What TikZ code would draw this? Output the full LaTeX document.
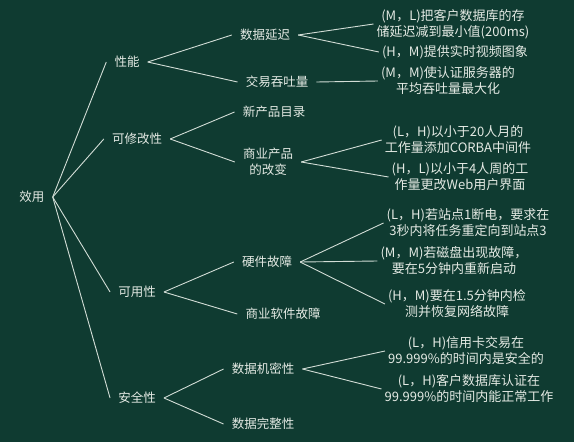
\documentclass[tikz,border=0pt]{standalone}
\usepackage{fontspec}
\setmainfont{Noto Sans CJK SC}
\definecolor{board}{HTML}{0F3B31}
\definecolor{chalk}{HTML}{E4EAE4}
\definecolor{chalkline}{HTML}{D2DDD6}
\begin{document}
\begin{tikzpicture}[x=1pt,y=-1pt,
  lbl/.style={text=chalk, font=\fontsize{12.5}{16}\selectfont, inner xsep=8pt, inner ysep=2pt, align=center},
  leaf/.style={lbl, font=\fontsize{13}{16}\selectfont, inner xsep=3pt},
  wire/.style={draw=chalkline, line width=0.9pt}]
% chalkboard
\fill[board] (0,0) rectangle (574,442);
\useasboundingbox (0,0) rectangle (574,442);

% root and quality attributes
\node[lbl] (root)  at (32,197)  {效用};
\node[lbl] (perf)  at (127,62)  {性能};
\node[lbl] (modi)  at (137,139) {可修改性};
\node[lbl] (avail) at (137,292) {可用性};
\node[lbl] (sec)   at (137,398) {安全性};

% refinements
\node[lbl] (lat)   at (265,35)  {数据延迟};
\node[lbl] (thr)   at (277,82)  {交易吞吐量};
\node[lbl] (cat)   at (274,112) {新产品目录};
\node[lbl] (chg)   at (268,162) {商业产品\\的改变};
\node[lbl] (hw)    at (267,262) {硬件故障};
\node[lbl] (sw)    at (283,314) {商业软件故障};
\node[lbl] (conf)  at (263,369) {数据机密性};
\node[lbl] (integ) at (263,424) {数据完整性};

% scenarios
\node[leaf] (s1)  at (453,24)  {(M，L)把客户数据库的存\\储延迟减到最小值(200ms)};
\node[leaf] (s2)  at (455,52)  {(H，M)提供实时视频图象};
\node[leaf] (s3)  at (448,81)  {(M，M)使认证服务器的\\平均吞吐量最大化};
\node[leaf] (s4)  at (458,140) {(L，H)以小于20人月的\\工作量添加CORBA中间件};
\node[leaf] (s5)  at (460,177) {(H，L)以小于4人周的工\\作量更改Web用户界面};
\node[leaf] (s6)  at (468,223) {(L，H)若站点1断电，要求在\\3秒内将任务重定向到站点3};
\node[leaf] (s7)  at (454,261) {(M，M)若磁盘出现故障，\\要在5分钟内重新启动};
\node[leaf] (s8)  at (457,304) {(H，M)要在1.5分钟内检\\测并恢复网络故障};
\node[leaf] (s9)  at (466,351) {(L，H)信用卡交易在\\99.999\%的时间内是安全的};
\node[leaf] (s10) at (469,389) {(L，H)客户数据库认证在\\99.999\%的时间内能正常工作};

% connectors
\foreach \a/\b in {root/perf, root/modi, root/avail, root/sec,
                   perf/lat, perf/thr, modi/cat, modi/chg,
                   avail/hw, avail/sw, sec/conf, sec/integ,
                   lat/s1, lat/s2, thr/s3, chg/s4, chg/s5,
                   hw/s6, hw/s7, hw/s8, conf/s9, conf/s10}
  \draw[wire] (\a.east) -- (\b.west);
\end{tikzpicture}
\end{document}
